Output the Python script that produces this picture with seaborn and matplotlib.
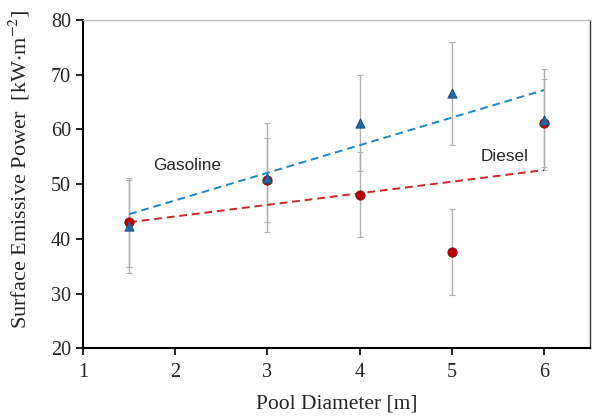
import numpy as np
import pandas as pd
import seaborn as sns
import matplotlib.pyplot as plt

# pool diameters [m]
diameter = [1.5, 3, 4, 5, 6]
# surface emissive power [kW/m2] and error bar half-widths
gasoline_sep = [42.3, 51.2, 61.2, 66.6, 61.8]
gasoline_err = [8.5, 10.0, 8.7, 9.4, 9.2]
diesel_sep = [43.0, 50.7, 48.1, 37.6, 61.2]
diesel_err = [8.2, 7.7, 7.7, 7.9, 8.1]

df = pd.DataFrame({
    "diameter": diameter * 2,
    "sep": gasoline_sep + diesel_sep,
    "err": gasoline_err + diesel_err,
    "fuel": ["Gasoline"] * 5 + ["Diesel"] * 5,
})

sns.set_style("ticks")
plt.rcParams["mathtext.fontset"] = "stix"

fig = plt.figure(figsize=(5.93, 4.2), dpi=100)
ax = fig.add_axes([0.140, 0.171, 0.855, 0.781])

marker_col = {"Gasoline": "#1f6aa5", "Diesel": "#c00000"}
line_col = {"Gasoline": "#1c87c4", "Diesel": "#c0282a"}
edge_col = {"Gasoline": "#174d7a", "Diesel": "#7a1010"}
marker = {"Gasoline": "^", "Diesel": "o"}

# error bars first so they sit under the markers
for fuel in ["Diesel", "Gasoline"]:
    sub = df[df["fuel"] == fuel]
    ax.errorbar(sub["diameter"], sub["sep"], yerr=sub["err"], fmt="none",
                ecolor="#b0b0b0", elinewidth=1.0, capsize=2.2, capthick=0.8, zorder=1)

# linear trend lines over the data range
for fuel in ["Gasoline", "Diesel"]:
    sub = df[df["fuel"] == fuel]
    sns.regplot(data=sub, x="diameter", y="sep", ci=None, scatter=False,
                truncate=True, ax=ax,
                line_kws=dict(color=line_col[fuel], linestyle=(0, (4, 2.5)), linewidth=1.4, zorder=2))

for fuel in ["Diesel", "Gasoline"]:
    sub = df[df["fuel"] == fuel]
    sns.scatterplot(data=sub, x="diameter", y="sep", marker=marker[fuel],
                    color=marker_col[fuel], edgecolor=edge_col[fuel], linewidth=0.6,
                    s=45, ax=ax, zorder=3, legend=False)

ax.text(2.13, 53.5, "Gasoline", fontsize=12.3, family="Liberation Sans", ha="center", va="center")
ax.text(5.57, 55.0, "Diesel", fontsize=12.3, family="Liberation Sans", ha="center", va="center")

ax.set_xlim(1, 6.5)
ax.set_ylim(20, 80)
ax.set_xticks([1, 2, 3, 4, 5, 6])
ax.set_yticks([20, 30, 40, 50, 60, 70, 80])

ax.set_xlabel("Pool Diameter [m]", fontsize=15.5, family="Liberation Serif", labelpad=9)
ax.set_ylabel("Surface Emissive Power  [kW$\\cdot$m$^{-2}$]", fontsize=16,
              family="Liberation Serif")
ax.yaxis.set_label_coords(-0.1, 0.545)
for lab in ax.get_xticklabels() + ax.get_yticklabels():
    lab.set_family("Liberation Serif")
    lab.set_fontsize(14.5)

ax.tick_params(axis="both", direction="out", length=5, width=1.2, color="black")
ax.tick_params(axis="x", pad=6)
ax.spines["left"].set_linewidth(1.5)
ax.spines["bottom"].set_linewidth(1.5)
ax.spines["left"].set_color("black")
ax.spines["bottom"].set_color("black")
ax.spines["top"].set_color("#bbbbbb")
ax.spines["top"].set_linewidth(1)
ax.spines["right"].set_color("#333333")
ax.spines["right"].set_linewidth(1)

fig.savefig("out.png", dpi=100)
